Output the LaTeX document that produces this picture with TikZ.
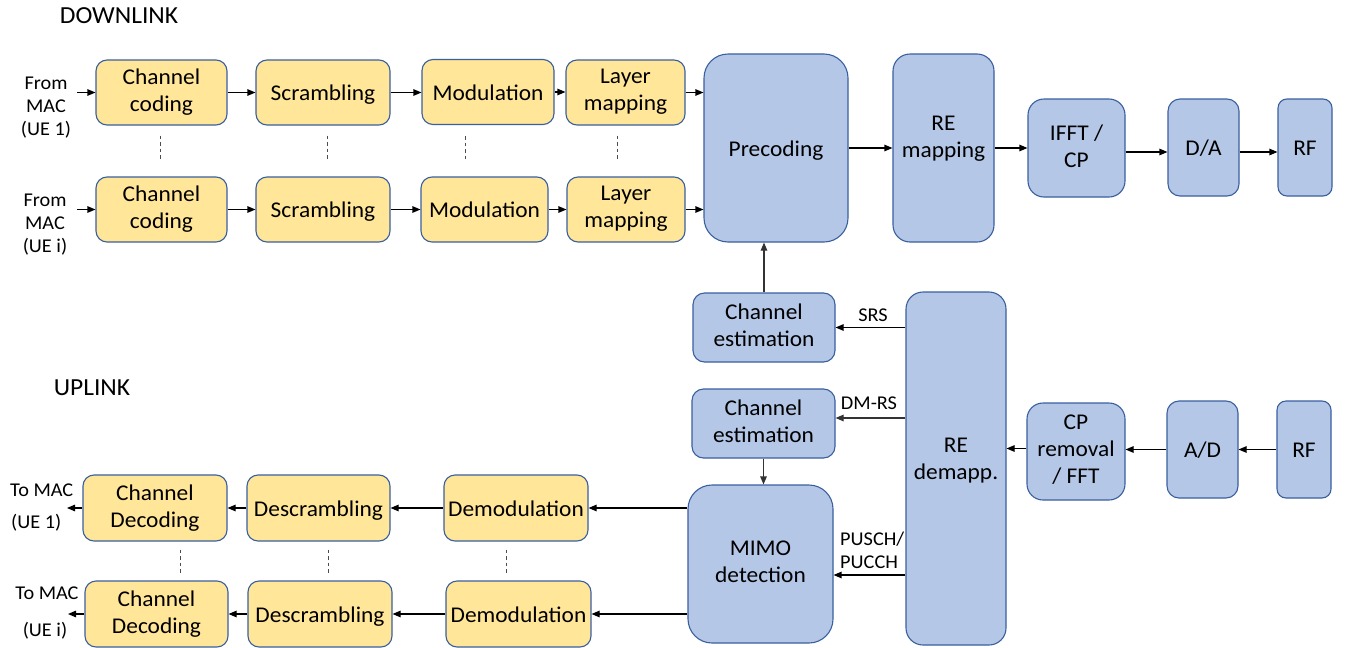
\documentclass[tikz,border=0pt]{standalone}
\usepackage{fontspec}
\setmainfont{Carlito}[FakeStretch=1.04]
\usetikzlibrary{arrows.meta}
\definecolor{yel}{HTML}{FFE699}
\definecolor{blu}{HTML}{B4C7E7}
\definecolor{bordc}{HTML}{3A5F9E}
\newcommand\bigtxt{\fontsize{22.5}{27}\selectfont}
\newcommand\titletxt{\fontsize{24.5}{29}\selectfont}
\newcommand\smalltxt{\fontsize{19.5}{23}\selectfont}
\begin{document}
\begin{tikzpicture}[x=1pt,y=-1pt,
  blk/.style={draw=bordc, line width=1.1pt, align=center, inner sep=0pt, font=\bigtxt,
    execute at begin node={\rule{0pt}{21pt}},
    execute at end node={\rule[-4.5pt]{0pt}{0pt}}},
  yblk/.style={blk, fill=yel, rounded corners=11pt},
  bblk/.style={blk, fill=blu},
  sz/.style 2 args={minimum width=#1pt, minimum height=#2pt},
  lbl/.style={font=\smalltxt, inner sep=0pt, align=center},
  arr/.style={-{Triangle[length=8pt,width=6.5pt]}, line width=1.1pt},
  dots/.style={dash pattern=on 3.5pt off 3pt, line width=0.9pt, black!70}]
\useasboundingbox (0,0) rectangle (1347,648);

% ---------- section titles ----------
\node[font=\titletxt, inner sep=0pt] (dltitle) at (119,16) {DOWNLINK};
\node[font=\titletxt, inner sep=0pt] (ultitle) at (92,388) {UPLINK};

% ---------- downlink, per-UE chains ----------
\node[yblk, sz={131}{65}] (cc1) at (161.5,92.5) {Channel\\coding};
\node[yblk, sz={134}{65}] (sc1) at (323,92.5) {Scrambling};
\node[yblk, sz={132}{65}] (mo1) at (488,92) {Modulation};
\node[yblk, sz={119}{65}] (lm1) at (625.5,92.5) {Layer\\mapping};

\node[yblk, sz={131}{65}] (cc2) at (161.5,209.5) {Channel\\coding};
\node[yblk, sz={134}{65}] (sc2) at (323,209.5) {Scrambling};
\node[yblk, sz={127}{65}] (mo2) at (484.5,209.5) {Modulation};
\node[yblk, sz={118}{65}] (lm2) at (626,209.5) {Layer\\mapping};

% ---------- downlink, common part ----------
\node[bblk, rounded corners=24pt, sz={144}{188}] (prec) at (776,148) {Precoding};
\node[bblk, rounded corners=17pt, sz={101}{188}] (rem) at (943.5,148) {RE\\mapping\\[-10pt]\mbox{}};
\node[bblk, rounded corners=16pt, sz={97}{98}] (ifft) at (1076.5,148) {IFFT /\\CP};
\node[bblk, rounded corners=12pt, sz={71}{97}] (da) at (1203.5,147.5) {D/A};
\node[bblk, rounded corners=9pt, sz={54}{97}] (rf1) at (1305,147.5) {RF};

% ---------- channel estimation ----------
\node[bblk, rounded corners=11.5pt, sz={142}{69}] (ce1) at (764,327.5) {Channel\\estimation};
\node[bblk, rounded corners=11.5pt, sz={143}{69}] (ce2) at (763.5,423.5) {Channel\\estimation};

% ---------- uplink, common part ----------
\node[bblk, rounded corners=17pt, sz={100}{353}] (rdm) at (956,468.5) {RE\\demapp.\\[-12pt]\mbox{}};
\node[bblk, rounded corners=24pt, sz={145}{158}] (mimo) at (760.5,564) {MIMO\\detection};
\node[bblk, rounded corners=16pt, sz={98}{97}] (cpr) at (1076,451.5) {CP\\removal\\/ FFT};
\node[bblk, rounded corners=12pt, sz={71}{97}] (ad) at (1202.5,449.5) {A/D};
\node[bblk, rounded corners=9pt, sz={54}{97}] (rf2) at (1304,449.5) {RF};

% ---------- uplink, per-UE chains ----------
\node[yblk, sz={144}{66}] (dm1) at (516,508) {Demodulation};
\node[yblk, sz={145}{66}] (dm2) at (518.5,614) {Demodulation};
\node[yblk, sz={143}{66}] (ds1) at (318.5,508) {Descrambling};
\node[yblk, sz={144}{66}] (ds2) at (320,614) {Descrambling};
\node[yblk, sz={144}{66}] (cd1) at (155,508) {Channel\\Decoding};
\node[yblk, sz={143}{66}] (cd2) at (156.5,614) {Channel\\Decoding};

% ---------- MAC side labels ----------
\node[lbl] (fromA) at (46,107.5) {From\\MAC\\(UE 1)};
\node[lbl] (fromB) at (45,224.5) {From\\MAC\\(UE i)};
\node[lbl, anchor=west] (toA) at (10,490) {To MAC};
\node[lbl, anchor=west] (toAue) at (11,523) {(UE 1)};
\node[lbl] (toB) at (47,593) {To MAC};
\node[lbl] (toBue) at (45,631) {(UE i)};
\coordinate (inA) at (77,92.5);
\coordinate (inB) at (77,209.5);
\coordinate (outA) at (67,508);
\coordinate (outB) at (68,614);

% ---------- signal labels ----------
\node[lbl] (srs) at (873,315) {SRS};
\node[lbl] (dmrs) at (869,403) {DM-RS};
\node[lbl, anchor=west, align=left] (pusch) at (840,550) {PUSCH/\\PUCCH};

% ---------- downlink connectors ----------
\draw[arr] (inA) -- (cc1.west);
\draw[arr] (cc1) -- (sc1);
\draw[arr] (sc1.east) -- (sc1.east -| mo1.west);
\draw[arr] (mo1.east) -- (mo1.east -| lm1.west);
\draw[arr] (lm1.east) -- (lm1.east -| prec.west);
\draw[arr] (inB) -- (cc2.west);
\draw[arr] (cc2) -- (sc2);
\draw[arr] (sc2) -- (mo2);
\draw[arr] (mo2) -- (lm2);
\draw[arr] (lm2.east) -- (lm2.east -| prec.west);
\draw[arr] (prec.east) -- (rem.west);
\draw[arr] (rem.east) -- (ifft.west);
\draw[arr] ([yshift=-4pt]ifft.east) -- ([yshift=-4pt]ifft.east -| da.west);
\draw[arr] ([yshift=-4.5pt]da.east) -- ([yshift=-4.5pt]da.east -| rf1.west);

% ---------- estimation connectors ----------
\draw[arr, black!80] (ce1.north) -- (ce1.north |- prec.south);
\draw[arr] (rdm.west |- ce1.east) -- (ce1.east);
\draw[arr, black!80] ([yshift=5.5pt]ce2.east -| rdm.west) -- ([yshift=5.5pt]ce2.east);
\draw[arr, black!80] (ce2.south) -- (ce2.south |- mimo.north);

% ---------- uplink connectors ----------
\draw[arr] (rf2) -- (ad);
\draw[arr] (ad.west) -- (ad.west -| cpr.east);
\draw[arr] ([yshift=3pt]cpr.west) -- ([yshift=3pt]cpr.west -| rdm.east);
\draw[arr] ([yshift=-11pt]mimo.east -| rdm.west) -- ([yshift=-11pt]mimo.east);
\draw[arr] (dm1.east -| mimo.west) -- (dm1.east);
\draw[arr] (dm2.east -| mimo.west) -- (dm2.east);
\draw[arr] (dm1) -- (ds1);
\draw[arr] (dm2.west) -- (dm2.west -| ds2.east);
\draw[arr] (ds1) -- (cd1);
\draw[arr] (ds2) -- (cd2);
\draw[arr] (cd1.west) -- (outA);
\draw[arr] (cd2.west) -- (outB);

% ---------- "more UEs" markers ----------
\draw[dots] ([xshift=-1.5pt,yshift=-10pt]cc1.south) -- ++(0,25);
\draw[dots] ([xshift=4pt,yshift=-10pt]sc1.south) -- ++(0,25);
\draw[dots] ([xshift=-23pt,yshift=-11pt]mo1.south) -- ++(0,25);
\draw[dots] ([xshift=-8.5pt,yshift=-10pt]lm1.south) -- ++(0,25);
\draw[dots] ([xshift=25pt,yshift=-8pt]cd1.south) -- ++(0,26);
\draw[dots] ([xshift=9.5pt,yshift=-8pt]ds1.south) -- ++(0,26);
\draw[dots] ([xshift=-10pt,yshift=-8pt]dm1.south) -- ++(0,26);
\end{tikzpicture}
\end{document}
